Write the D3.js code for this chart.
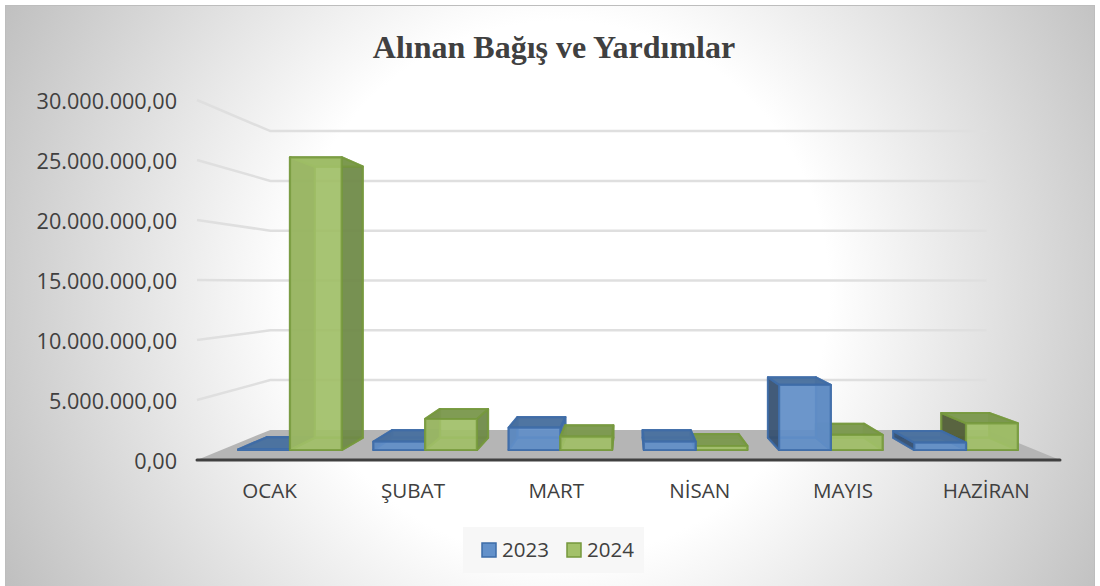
<!DOCTYPE html>
<html>
<head>
<meta charset="utf-8">
<script src="https://cdn.jsdelivr.net/npm/d3@7"></script>
<style>
html, body { margin: 0; padding: 0; background: #fff; }
svg { display: block; }
</style>
</head>
<body>
<svg id="chart" width="1100" height="586"></svg>
<script>
var months = ["OCAK", "ŞUBAT", "MART", "NİSAN", "MAYIS", "HAZİRAN"];
var seriesNames = ["2023", "2024"];
var values2023 = [50000, 730000, 1970000, 730000, 5750000, 640000];
var values2024 = [25850000, 2740000, 1180000, 350000, 1330000, 2360000];
var yTicks = [0, 5000000, 10000000, 15000000, 20000000, 25000000, 30000000];

var colors = {
    "2023": {front: "#6391ca", top: "#4a719f", left: "#36506f", right: "#476c9c", stroke: "#3d6ca8"},
    "2024": {front: "#a3c16a", top: "#7c994f", left: "#4f5a35", right: "#6f8a48", stroke: "#76983c"}
};

var svg = d3.select("#chart");
var defs = svg.append("defs");

var bg = defs.append("radialGradient").attr("id", "bg")
    .attr("gradientUnits", "userSpaceOnUse")
    .attr("cx", 560).attr("cy", 290).attr("r", 640);
bg.append("stop").attr("offset", "0.42").attr("stop-color", "#ffffff");
bg.append("stop").attr("offset", "1").attr("stop-color", "#bdbdbd");

svg.append("rect").attr("x", 5.5).attr("y", 5.5).attr("width", 1089).attr("height", 590)
    .attr("fill", "url(#bg)").attr("stroke", "#bdbdbd");

// front plane of the 3d box, everything else is pulled towards the vanishing point
var vp = {x: 628, y: 283};
var x = d3.scaleBand().domain(months).range([198, 1058]).paddingInner(0.235).paddingOuter(0.1175);
var xSeries = d3.scaleBand().domain(seriesNames).range([0, x.bandwidth()]);
var y = d3.scaleLinear().domain([0, 30000000]).range([460, 100]);
var depth = d3.scaleLinear().domain([0, 1]).range([1, 0.83]);

var barFront = 0.333, barBack = 0.74;

function project(px, v, d) {
    var s = depth(d);
    return [vp.x + (px - vp.x) * s, vp.y + (y(v) - vp.y) * s];
}
function poly(pts) {
    return pts.map(function(p) { return p[0].toFixed(1) + "," + p[1].toFixed(1); }).join(" ");
}

// grid on the back wall and the left wall
var x0 = 197, x1 = 1060;
var grid = svg.append("g").attr("fill", "none").attr("stroke", "#dfdfdf").attr("stroke-width", 2.5);
yTicks.slice(1).forEach(function(t) {
    grid.append("polyline").attr("points", poly([project(x0, t, 0), project(x0, t, 1), project(x1, t, 1)]));
});

// floor
svg.append("polygon")
    .attr("points", poly([project(x0, 0, 0), project(x0, 0, 1), project(x1, 0, 1), project(x1, 0, 0)]))
    .attr("fill", "#b5b5b5");

// bars, the ones furthest from the vanishing point go first
var bars = [];
months.forEach(function(m, i) {
    bars.push({month: m, series: "2023", value: values2023[i]});
    bars.push({month: m, series: "2024", value: values2024[i]});
});
bars.forEach(function(b) {
    b.left = x(b.month) + xSeries(b.series);
    b.right = b.left + xSeries.bandwidth();
});
bars.sort(function(a, b) {
    return Math.abs((b.left + b.right) / 2 - vp.x) - Math.abs((a.left + a.right) / 2 - vp.x);
});

svg.append("g").selectAll("g").data(bars).enter().append("g").each(function(b) {
    var g = d3.select(this), c = colors[b.series];
    var l = b.left, r = b.right, v = b.value;
    var faces = [
        {fill: c.top, o: 0.5, pts: [project(l, 0, barFront), project(r, 0, barFront), project(r, 0, barBack), project(l, 0, barBack)]},
        {fill: c.top, o: 0.45, pts: [project(l, 0, barBack), project(r, 0, barBack), project(r, v, barBack), project(l, v, barBack)]}
    ];
    // the side turned away from the vanishing point is drawn before the one facing us
    var leftFace = {fill: c.left, o: 0.9, pts: [project(l, 0, barFront), project(l, 0, barBack), project(l, v, barBack), project(l, v, barFront)]};
    var rightFace = {fill: c.right, o: 0.9, pts: [project(r, 0, barFront), project(r, 0, barBack), project(r, v, barBack), project(r, v, barFront)]};
    if ((l + r) / 2 < vp.x) { faces.push(leftFace, rightFace); } else { faces.push(rightFace, leftFace); }
    faces.push({fill: c.top, o: 0.95, pts: [project(l, v, barFront), project(r, v, barFront), project(r, v, barBack), project(l, v, barBack)]});
    faces.push({fill: c.front, o: 0.88, pts: [project(l, 0, barFront), project(r, 0, barFront), project(r, v, barFront), project(l, v, barFront)]});

    g.selectAll("polygon").data(faces).enter().append("polygon")
        .attr("points", function(f) { return poly(f.pts); })
        .attr("fill", function(f) { return f.fill; })
        .attr("fill-opacity", function(f) { return f.o; })
        .attr("stroke", c.stroke)
        .attr("stroke-opacity", 0.8)
        .attr("stroke-width", 2.2)
        .attr("stroke-linejoin", "round");
});

// axis line at the front edge of the floor
svg.append("line")
    .attr("x1", x0).attr("x2", x1).attr("y1", y(0)).attr("y2", y(0))
    .attr("stroke", "#404040").attr("stroke-width", 3).attr("stroke-linecap", "round");

// axes
var locale = d3.formatLocale({decimal: ",", thousands: ".", grouping: [3], currency: ["", ""]});
var yAxis = d3.axisLeft(y).tickValues(yTicks).tickSize(0).tickPadding(20).tickFormat(locale.format(",.2f"));
var yG = svg.append("g").attr("transform", "translate(197,2)").call(yAxis);
yG.select(".domain").remove();
yG.selectAll("text")
    .attr("font-family", "'Open Sans', sans-serif").attr("font-size", 21.6).attr("fill", "#404040");

var xAxis = d3.axisBottom(x).tickSize(0).tickPadding(23);
var xG = svg.append("g").attr("transform", "translate(0,460)").call(xAxis);
xG.select(".domain").remove();
xG.selectAll("text")
    .attr("font-family", "'Open Sans', sans-serif").attr("font-size", 20.6).attr("fill", "#404040");

// title
svg.append("text").attr("x", 554).attr("y", 58).attr("text-anchor", "middle")
    .attr("font-family", "'Liberation Serif', serif").attr("font-weight", "bold")
    .attr("font-size", 32).attr("fill", "#404040")
    .text("Alınan Bağış ve Yardımlar");

// legend
svg.append("rect").attr("x", 463).attr("y", 527).attr("width", 181).attr("height", 46)
    .attr("fill", "#f7f7f7");
var legendX = d3.scalePoint().domain(seriesNames).range([482, 567]);
var legend = svg.append("g").selectAll("g").data(seriesNames).enter().append("g")
    .attr("transform", function(d) { return "translate(" + legendX(d) + ",543)"; });
legend.append("rect").attr("width", 14).attr("height", 14)
    .attr("fill", function(d) { return colors[d].front; })
    .attr("stroke", function(d) { return colors[d].stroke; })
    .attr("stroke-width", 1.5);
legend.append("text").attr("x", 20).attr("y", 14)
    .attr("font-family", "'Open Sans', sans-serif").attr("font-size", 20.5).attr("fill", "#404040")
    .text(function(d) { return d; });
</script>
</body>
</html>
